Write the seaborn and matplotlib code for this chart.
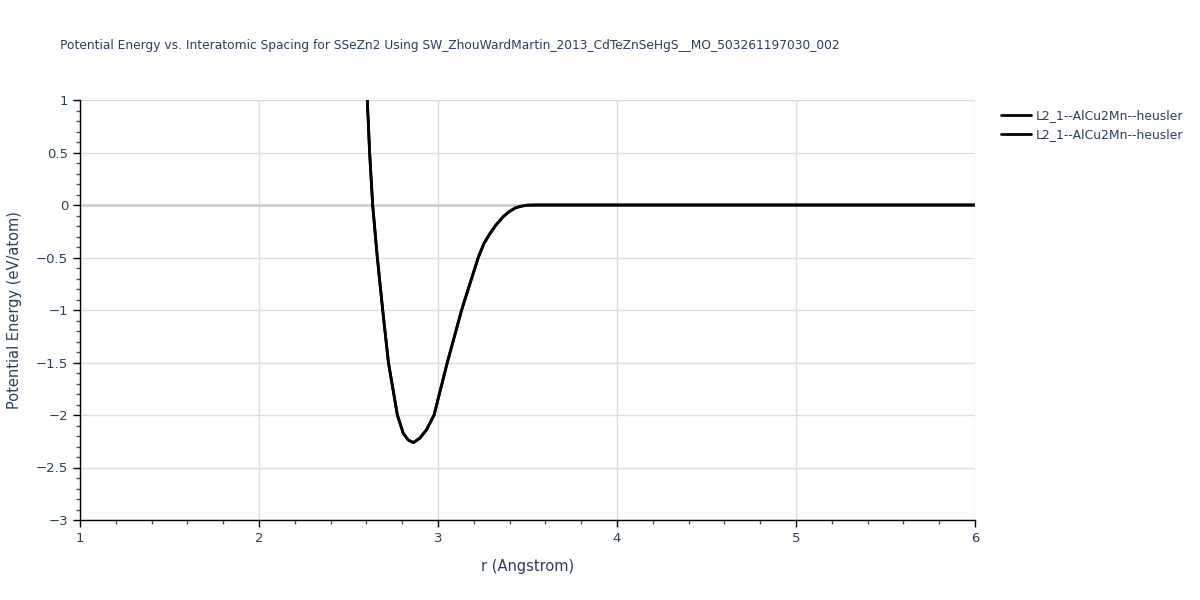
import numpy as np
import pandas as pd
import matplotlib
matplotlib.use("Agg")
import matplotlib.pyplot as plt
from matplotlib.ticker import MultipleLocator
import seaborn as sns

# values
r_values = [2.595, 2.605, 2.618, 2.635, 2.661, 2.691, 2.723, 2.773, 2.806, 2.834, 2.862,
            2.899, 2.936, 2.978, 3.052, 3.132, 3.179, 3.225, 3.257, 3.291, 3.324, 3.365,
            3.398, 3.43, 3.458, 3.495, 3.55, 4.0, 5.0, 6.0]
energy_values = [1.06, 1.0, 0.5, 0.0, -0.5, -1.0, -1.5, -2.0, -2.175, -2.238, -2.263,
                 -2.22, -2.14, -2.0, -1.5, -1.0, -0.746, -0.5, -0.365, -0.27, -0.19, -0.11,
                 -0.063, -0.03, -0.014, -0.002, 0.0, 0.0, 0.0, 0.0]
series_labels = ["L2_1--AlCu2Mn--heusler", "L2_1--AlCu2Mn--heusler"]
title = ("Potential Energy vs. Interatomic Spacing for SSeZn2 Using "
         "SW_ZhouWardMartin_2013_CdTeZnSeHgS__MO_503261197030_002")

df = pd.DataFrame({"r": r_values, "E": energy_values})

sns.set_theme(style="white")
plt.rcParams['font.family'] = ['DejaVu Sans']
text_color = "#2a3f5f"

fig = plt.figure(figsize=(12, 6), dpi=100)
ax = fig.add_axes([80 / 1200, 80 / 600, 895 / 1200, 420 / 600])

ax.grid(True, color="#dcdcdc", linewidth=1)
ax.axhline(0, color="#cfcfcf", linewidth=2, zorder=1)

for lab in series_labels:
    sns.lineplot(data=df, x="r", y="E", ax=ax, color="black", linewidth=2,
                 label=lab, zorder=3)

ax.set_xlim(1, 6)
ax.set_ylim(-3, 1)
ax.xaxis.set_major_locator(MultipleLocator(1))
ax.xaxis.set_minor_locator(MultipleLocator(0.2))
ax.yaxis.set_minor_locator(MultipleLocator(0.1))
ax.set_yticks([1, 0.5, 0, -0.5, -1, -1.5, -2, -2.5, -3])
ax.set_yticklabels(["1", "0.5", "0", "\u22120.5", "\u22121", "\u22121.5", "\u22122",
                    "\u22122.5", "\u22123"])

for s in ["top", "right"]:
    ax.spines[s].set_visible(False)
for s in ["left", "bottom"]:
    ax.spines[s].set_color("black")
    ax.spines[s].set_linewidth(1)

ax.tick_params(axis="both", which="major", direction="out", length=5, width=1,
               color="black", labelsize=9.5, labelcolor=text_color,
               bottom=True, left=True)
ax.tick_params(axis="both", which="minor", direction="out", length=3, width=1,
               color="#555555", bottom=True, left=True)

ax.set_xlabel("r (Angstrom)", fontsize=10.5, color=text_color, labelpad=10)
ax.set_ylabel("Potential Energy (eV/atom)", fontsize=10.5, color=text_color, labelpad=10)

fig.text(60 / 1200, 1 - 46 / 600, title, fontsize=8.8, color=text_color, va="center")

ax.legend(loc="upper left", bbox_to_anchor=(996 / 1200, 1 - 104 / 600),
          bbox_transform=fig.transFigure, frameon=False, fontsize=8.9,
          labelcolor=text_color, handlelength=2.4, handletextpad=0.4,
          borderaxespad=0)

plt.savefig("out.png", dpi=100)
